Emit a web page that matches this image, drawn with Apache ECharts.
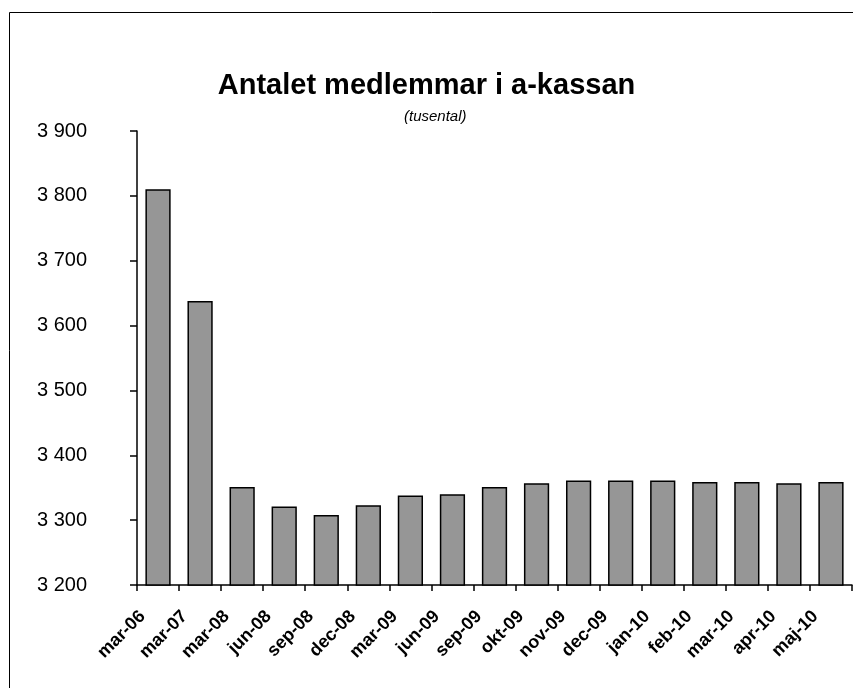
<!DOCTYPE html>
<html>
<head>
<meta charset="utf-8">
<script src="https://cdn.jsdelivr.net/npm/echarts@6/dist/echarts.min.js"></script>
<style>
  html, body { margin: 0; padding: 0; background: #fff; }
  #chart { width: 853px; height: 688px; }
</style>
</head>
<body>
<div id="chart"></div>
<script>
// kategorier och värden (tusental)
const categories = ['mar-06', 'mar-07', 'mar-08', 'jun-08', 'sep-08', 'dec-08', 'mar-09', 'jun-09',
  'sep-09', 'okt-09', 'nov-09', 'dec-09', 'jan-10', 'feb-10', 'mar-10', 'apr-10', 'maj-10'];
const members = [3810, 3638, 3351, 3321, 3308, 3323, 3338, 3340,
  3351, 3357, 3361, 3361, 3361, 3359, 3359, 3357, 3359];
const yTicks = { min: 3200, max: 3900, step: 100 };

const font = '"Liberation Sans", Arial, sans-serif';

function initChart() {
  const dom = document.getElementById('chart');
  const chart = echarts.init(dom);

  chart.setOption({
    animation: false,
    backgroundColor: '#fff',
    title: [
      {
        text: 'Antalet medlemmar i a-kassan',
        left: 'center',
        top: 66,
        textStyle: { fontFamily: font, fontSize: 29, fontWeight: 'bold', color: '#000' }
      },
      {
        text: '(tusental)',
        left: 399,
        top: 104,
        textStyle: { fontFamily: font, fontSize: 15, fontStyle: 'italic', fontWeight: 'normal', color: '#000' }
      }
    ],
    graphic: [
      {
        type: 'rect',
        shape: { x: 9.5, y: 12.5, width: 900, height: 800 },
        style: { fill: 'none', stroke: '#000', lineWidth: 1 },
        silent: true
      }
    ],
    grid: { left: 137, right: 1, top: 131, bottom: 103 },
    xAxis: {
      type: 'category',
      data: categories,
      axisLine: { lineStyle: { color: '#000', width: 1.5 } },
      axisTick: { show: true, length: 6, lineStyle: { color: '#000', width: 1.5 } },
      axisLabel: {
        rotate: 45,
        interval: 0,
        margin: 13,
        padding: [0, 22, 0, 0],
        fontFamily: font,
        fontSize: 18,
        fontWeight: 'bold',
        color: '#000'
      }
    },
    yAxis: {
      type: 'value',
      min: yTicks.min,
      max: yTicks.max,
      interval: yTicks.step,
      splitLine: { show: false },
      axisLine: { show: true, lineStyle: { color: '#000', width: 1.5 } },
      axisTick: { show: true, length: 7, lineStyle: { color: '#000', width: 1.5 } },
      axisLabel: {
        margin: 50,
        fontFamily: font,
        fontSize: 20,
        color: '#000',
        formatter: v => String(v).replace(/\B(?=(\d{3})+(?!\d))/g, ' ')
      }
    },
    series: [
      {
        type: 'bar',
        data: members,
        barCategoryGap: '40%',
        itemStyle: { color: '#969696', borderColor: '#000', borderWidth: 1.5 }
      }
    ]
  });
}

document.addEventListener('DOMContentLoaded', initChart);
</script>
</body>
</html>
